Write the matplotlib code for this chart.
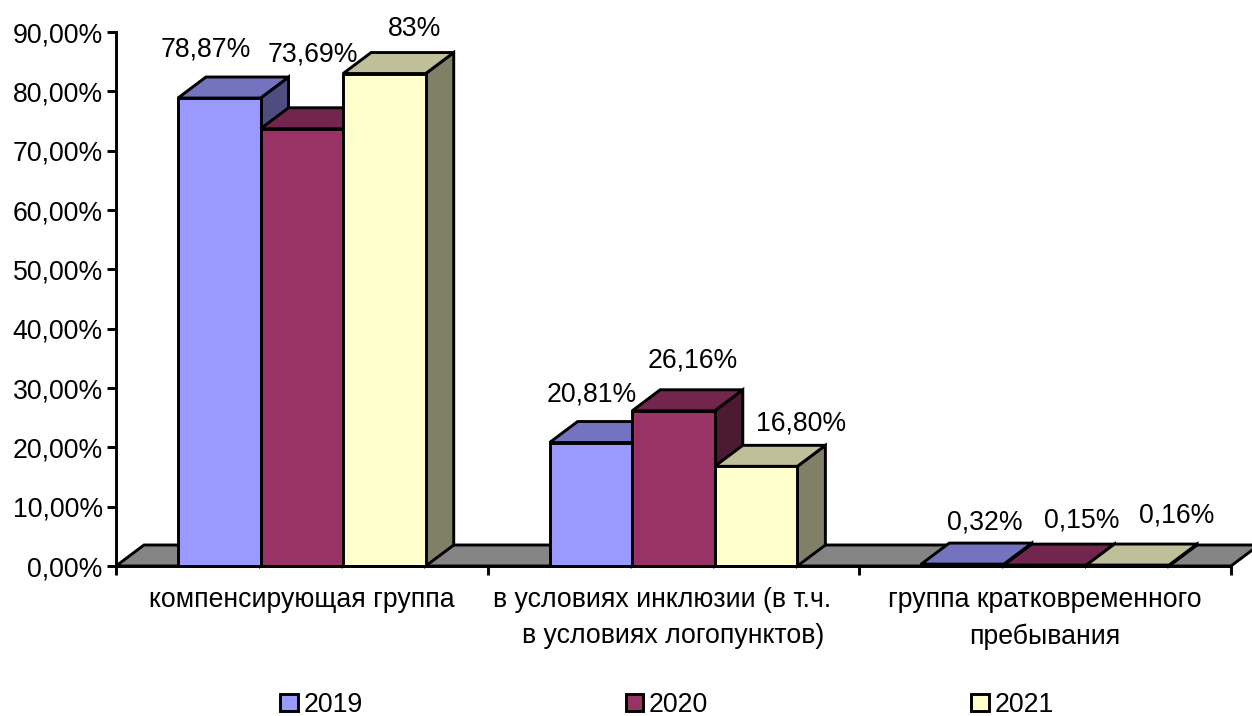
import matplotlib
matplotlib.use("Agg")
import matplotlib.pyplot as plt
from matplotlib.patches import Polygon, Patch
from matplotlib.ticker import FixedLocator

categories = ["компенсирующая группа",
              "в условиях инклюзии (в т.ч.   \nв условиях логопунктов)",
              "группа кратковременного\nпребывания"]
years = ["2019", "2020", "2021"]
values_2019 = [78.87, 20.81, 0.32]
values_2020 = [73.69, 26.16, 0.15]
values_2021 = [83.0, 16.80, 0.16]
labels_2019 = ["78,87%", "20,81%", "0,32%"]
labels_2020 = ["73,69%", "26,16%", "0,15%"]
labels_2021 = ["83%", "16,80%", "0,16%"]
y_ticks = [0, 10, 20, 30, 40, 50, 60, 70, 80, 90]
y_tick_labels = ["0,00%", "10,00%", "20,00%", "30,00%", "40,00%",
                 "50,00%", "60,00%", "70,00%", "80,00%", "90,00%"]

series = [values_2019, values_2020, values_2021]
series_labels = [labels_2019, labels_2020, labels_2021]

# styling
fronts = ["#9999FF", "#993366", "#FFFFCC"]
tops = ["#7373BF", "#73264D", "#BFBF99"]
sides = ["#4D4D80", "#4D1A33", "#808066"]
FLOOR = "#848484"
LW = 2.1
FS = 19.2
W, H = 1252, 716
L, R, T, B = 116, 1231, 32, 566
BAR_W = 1 / 4.5
GAP = 0.75 * BAR_W
DX = 28 / ((R - L) / 3)
DY = 21 / ((B - T) / 90)
# label offsets from the bar's top centre, in pixels, per series then category
label_nudges = [[(-13.5, 49), (1, 48), (22.5, 42)],
                [(11, 74), (19.5, 50), (37, 45)],
                [(30, 45), (44.5, 43), (49, 50)]]

plt.rcParams["font.family"] = ["Liberation Sans", "DejaVu Sans"]
fig = plt.figure(figsize=(W / 100, H / 100), dpi=100)
ax = fig.add_axes([L / W, 1 - B / H, (R - L) / W, (B - T) / H])
ax.set_xlim(0, 3)
ax.set_ylim(0, 90)


def poly(pts, color, z):
    ax.add_patch(Polygon(pts, closed=True, facecolor=color, edgecolor="black",
                         linewidth=LW, joinstyle="miter", clip_on=False, zorder=z))


# floor
poly([(0, 0), (DX, DY), (3 + DX, DY), (3, 0)], FLOOR, 1)

z = 2
for c in range(len(categories)):
    for s in range(3):
        v = series[s][c]
        x0 = c + GAP + s * BAR_W
        x1 = x0 + BAR_W
        poly([(x1, 0), (x1 + DX, DY), (x1 + DX, v + DY), (x1, v)], sides[s], z)
        poly([(x0, v), (x0 + DX, v + DY), (x1 + DX, v + DY), (x1, v)], tops[s], z)
        ax.add_patch(plt.Rectangle((x0, 0), BAR_W, v, facecolor=fronts[s], edgecolor="black",
                                   linewidth=LW, clip_on=False, zorder=z))
        ax.annotate(series_labels[s][c], xy=(x0 + BAR_W / 2, v),
                    xytext=label_nudges[s][c], textcoords="offset pixels",
                    ha="center", va="center", fontsize=FS, color="black",
                    annotation_clip=False, zorder=50)
        z += 1

for name in ("top", "right"):
    ax.spines[name].set_visible(False)
for name in ("left", "bottom"):
    ax.spines[name].set_linewidth(LW)
    ax.spines[name].set_zorder(40)

ax.set_yticks(y_ticks)
ax.set_yticklabels(y_tick_labels, fontsize=FS)
ax.tick_params(axis="y", length=6.5, width=LW, pad=3.0, color="black")
ax.set_xticks([0, 1, 2, 3])
ax.set_xticklabels([])
ax.tick_params(axis="x", which="major", length=6.5, width=LW)
ax.xaxis.set_minor_locator(FixedLocator([0.5, 1.5, 2.5]))
ax.set_xticklabels(categories, minor=True, fontsize=FS, linespacing=1.5)
ax.tick_params(axis="x", which="minor", length=0, pad=15)

handles = [Patch(facecolor=f, edgecolor="black", linewidth=LW) for f in fronts]
fig.legend(handles, years, loc="center", bbox_to_anchor=(667 / W, 1 - 705 / H),
           ncol=3, frameon=False, fontsize=FS, handlelength=0.66, handleheight=0.62,
           handletextpad=0.22, columnspacing=9.85, borderpad=0, borderaxespad=0)

fig.savefig("out.png", dpi=100)
